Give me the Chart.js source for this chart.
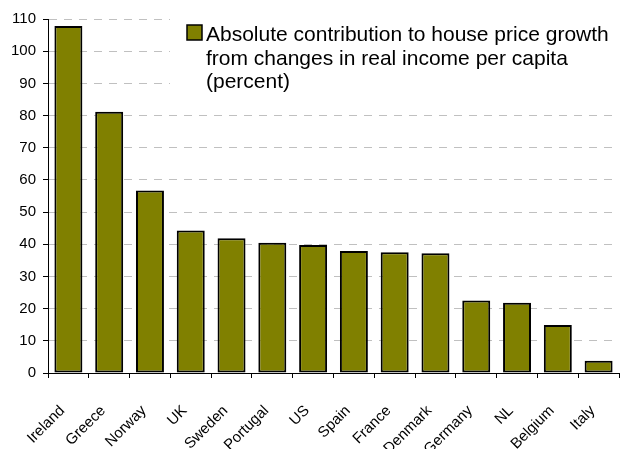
<!DOCTYPE html>
<html>
<head>
<meta charset="utf-8">
<script src="https://cdn.jsdelivr.net/npm/chart.js@4/dist/chart.umd.min.js"></script>
<style>
  html, body { margin: 0; padding: 0; background: #fff; }
  #wrap { width: 620px; height: 449px; }
</style>
</head>
<body>
<div id="wrap"><canvas id="chart" width="620" height="449"></canvas></div>
<script>
const countries = ['Ireland', 'Greece', 'Norway', 'UK', 'Sweden', 'Portugal', 'US', 'Spain', 'France', 'Denmark', 'Germany', 'NL', 'Belgium', 'Italy'];
const contribution = [107.8, 81.2, 56.7, 44.3, 41.9, 40.5, 39.8, 37.9, 37.5, 37.2, 22.5, 21.8, 14.9, 3.8];
const seriesName = ['Absolute contribution to house price growth', 'from changes in real income per capita', '(percent)'];
const yTicks = [0, 10, 20, 30, 40, 50, 60, 70, 80, 90, 100, 110];

const FONT = '"Liberation Sans", Arial, sans-serif';

// legend drawn as a box over the grid, like the original
const legendBox = {
  id: 'legendBox',
  beforeDatasetsDraw(chart) {
    const c = chart.ctx;
    c.save();
    c.fillStyle = '#fff';
    c.fillRect(170, 8, 450, 100);
    c.fillStyle = '#808000';
    c.fillRect(187, 25, 15, 15);
    c.strokeStyle = '#000';
    c.lineWidth = 1.5;
    c.strokeRect(187, 25, 15, 15);
    c.fillStyle = '#000';
    c.font = '21px ' + FONT;
    c.textBaseline = 'alphabetic';
    seriesName.forEach((line, i) => c.fillText(line, 206, 41 + i * 23.5));
    c.restore();
  }
};

new Chart(document.getElementById('chart'), {
  type: 'bar',
  data: {
    labels: countries,
    datasets: [{
      label: seriesName.join(' '),
      data: contribution,
      backgroundColor: '#808000',
      borderColor: '#000',
      borderWidth: 2,
      borderSkipped: false,
      categoryPercentage: 1,
      barPercentage: 0.686
    }]
  },
  options: {
    responsive: false,
    animation: false,
    layout: { padding: { top: 19, right: 1, left: 0, bottom: 0 } },
    plugins: {
      legend: { display: false },
      tooltip: { enabled: false }
    },
    scales: {
      x: {
        afterFit: s => { s.height = 76; s.paddingLeft = 0; s.paddingRight = 0; },
        border: { color: '#000', width: 1 },
        grid: { drawOnChartArea: false, offset: true, tickLength: 5, color: '#000' },
        ticks: {
          minRotation: 45,
          maxRotation: 45,
          padding: 24,
          labelOffset: -6,
          color: '#000',
          font: { family: FONT, size: 15 }
        }
      },
      y: {
        min: 0,
        max: 110,
        afterFit: s => { s.width = 48; },
        afterBuildTicks: s => { s.ticks = yTicks.map(v => ({ value: v })); },
        border: { color: '#000', width: 1, dash: [8, 7] },
        grid: { color: '#c0c0c0', tickBorderDash: [], tickColor: '#000', tickLength: 5 },
        ticks: {
          padding: 7,
          color: '#000',
          font: { family: FONT, size: 15 }
        }
      }
    }
  },
  plugins: [legendBox]
});
</script>
</body>
</html>
